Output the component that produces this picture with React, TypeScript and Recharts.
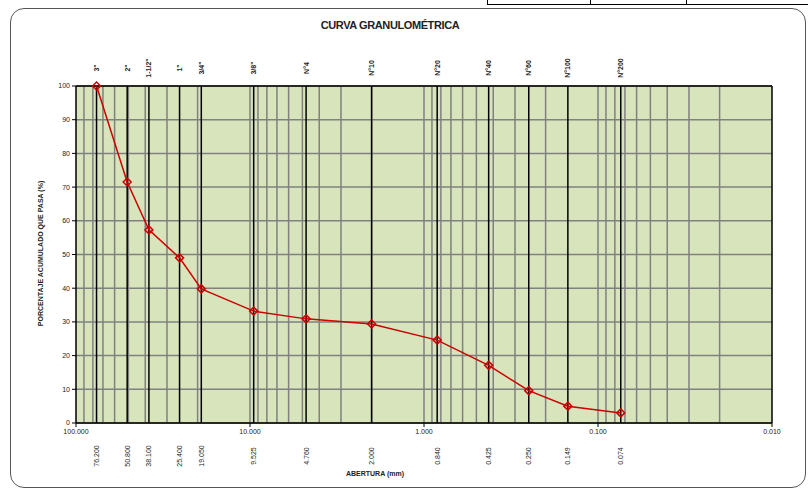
import React from 'react';
import { LineChart, Line, XAxis, YAxis, CartesianGrid, ReferenceLine } from 'recharts';

// tamices y porcentajes que pasan
const sieveNames = ['3"', '2"', '1-1/2"', '1"', '3/4"', '3/8"', 'N°4', 'N°10', 'N°20', 'N°40', 'N°60', 'N°100', 'N°200'];
const openings = [76.2, 50.8, 38.1, 25.4, 19.05, 9.525, 4.76, 2.0, 0.84, 0.425, 0.25, 0.149, 0.074];
const passing = [100, 71.5, 57.3, 49, 39.8, 33.2, 30.9, 29.4, 24.6, 17.1, 9.6, 5, 3];

const decadeTicks = [100, 10, 1, 0.1, 0.01];
const yTicks = [0, 10, 20, 30, 40, 50, 60, 70, 80, 90, 100];
const minorGrid = [10, 1, 0.1, 0.01].flatMap(d => [1, 2, 3, 4, 5, 6, 7, 8, 9].map(m => +(d * m).toPrecision(3))).filter(v => v > 0.01 && v < 100);

const data = openings.map((size, i) => ({ size, pass: passing[i] }));

const FONT = '"Liberation Sans", Arial, sans-serif';

const Diamond = (props: any) => {
  const { cx, cy } = props;
  if (cx == null || cy == null) return null;
  const r = 4;
  return (
    <polygon
      points={`${cx},${cy - r} ${cx + r},${cy} ${cx},${cy + r} ${cx - r},${cy}`}
      fill="none"
      stroke="#cc0000"
      strokeWidth={1.5}
    />
  );
};

const sieveLabel = (name: string, size: number) => (props: any) => {
  const x = props.viewBox?.x ?? 0;
  return (
    <g fontFamily={FONT} fontSize={7} fill="#222">
      <text
        x={x}
        y={68}
        transform={`rotate(-90 ${x} 68)`}
        textAnchor="middle"
        dominantBaseline="central"
        fontWeight="bold"
      >
        {name}
      </text>
      <text
        x={x}
        y={456}
        transform={`rotate(-90 ${x} 456)`}
        textAnchor="middle"
        dominantBaseline="central"
      >
        {size.toFixed(3)}
      </text>
    </g>
  );
};

export default function App() {
  return (
    <div style={{ position: 'absolute', left: 0, top: 0, width: 808, height: 491, background: '#fff', overflow: 'hidden' }}>
      {/* recuadro exterior */}
      <div
        style={{
          position: 'absolute',
          left: 10,
          top: 8,
          width: 794,
          height: 478,
          border: '1.5px solid #555',
          borderRadius: 14,
        }}
      />
      {/* trozo de tabla arriba */}
      <div style={{ position: 'absolute', left: 487, top: -10, width: 330, height: 13, border: '1px solid #000' }} />
      <div style={{ position: 'absolute', left: 590, top: -10, width: 1, height: 14, background: '#000' }} />
      <div style={{ position: 'absolute', left: 686, top: -10, width: 1, height: 14, background: '#000' }} />
      <div
        style={{
          position: 'absolute',
          left: 290,
          top: 19,
          width: 200,
          textAlign: 'center',
          fontFamily: FONT,
          fontWeight: 'bold',
          fontSize: 11,
          letterSpacing: -0.4,
          color: '#222',
        }}
      >
        CURVA GRANULOMÉTRICA
      </div>
      <div
        style={{
          position: 'absolute',
          left: 375 - 60,
          top: 470,
          width: 120,
          textAlign: 'center',
          fontFamily: FONT,
          fontWeight: 'bold',
          fontSize: 7,
          color: '#222',
        }}
      >
        ABERTURA (mm)
      </div>
      <div
        style={{
          position: 'absolute',
          left: 40 - 100,
          top: 250,
          width: 200,
          textAlign: 'center',
          fontFamily: FONT,
          fontWeight: 'bold',
          fontSize: 7,
          color: '#222',
          transform: 'rotate(-90deg)',
        }}
      >
        PORCENTAJE ACUMULADO QUE PASA (%)
      </div>
      <div style={{ position: 'absolute', left: 0, top: 0 }}>
        <LineChart width={808} height={491} data={data} margin={{ top: 86, right: 36, left: 46, bottom: 48 }}>
          <CartesianGrid fill="#d8e4bc" vertical={false} stroke="#808080" strokeWidth={1.5} />
          <XAxis
            dataKey="size"
            type="number"
            scale="log"
            domain={[0.01, 100]}
            reversed
            allowDataOverflow
            ticks={decadeTicks}
            tickFormatter={(v: number) => v.toFixed(3)}
            tick={{ fontSize: 7, fill: '#222', fontFamily: FONT }}
            tickSize={4}
            height={20}
            axisLine={{ stroke: '#000', strokeWidth: 1.5 }}
            tickLine={{ stroke: '#000' }}
          />
          <YAxis
            type="number"
            domain={[0, 100]}
            ticks={yTicks}
            width={30}
            tick={{ fontSize: 7, fill: '#222', fontFamily: FONT }}
            tickSize={4}
            axisLine={{ stroke: '#000', strokeWidth: 1.5 }}
            tickLine={{ stroke: '#000' }}
          />
          {minorGrid.map(v => (
            <ReferenceLine key={'m' + v} x={v} stroke="#808080" strokeWidth={1.5} />
          ))}
          {openings.map((v, i) => (
            <ReferenceLine key={'s' + v} x={v} stroke="#000" strokeWidth={1.5} label={sieveLabel(sieveNames[i], v)} />
          ))}
          <ReferenceLine y={100} stroke="#000" strokeWidth={1.5} />
          <ReferenceLine x={0.01} stroke="#000" strokeWidth={1.5} />
          <Line
            dataKey="pass"
            stroke="#cc0000"
            strokeWidth={1.5}
            dot={<Diamond />}
            isAnimationActive={false}
          />
        </LineChart>
      </div>
    </div>
  );
}
